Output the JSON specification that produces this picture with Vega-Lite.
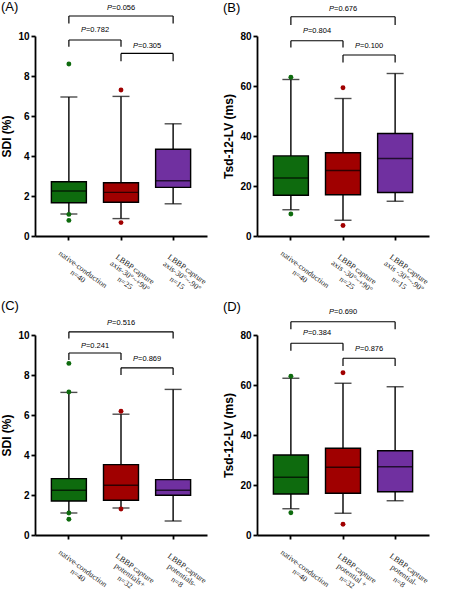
{
  "$schema": "https://vega.github.io/schema/vega-lite/v6.json",
  "padding": {"left": 0, "top": 1, "right": 2, "bottom": 0},
  "background": "white",
  "datasets": {
    "boxes": [
      {"panel": "A", "grp": "native", "cat": "native-conduction|n=40", "lo": 1.1, "q1": 1.66, "med": 2.25, "q3": 2.71, "hi": 6.95},
      {"panel": "A", "grp": "capA", "cat": "LBBP capture|axis-30°~+90°|n=25", "lo": 0.87, "q1": 1.69, "med": 2.18, "q3": 2.66, "hi": 6.98},
      {"panel": "A", "grp": "capB", "cat": "LBBP capture|axis-30°~-90°|n=15", "lo": 1.61, "q1": 2.43, "med": 2.76, "q3": 4.34, "hi": 5.61},
      {"panel": "B", "grp": "native", "cat": "native-conduction|n=40", "lo": 10.5, "q1": 16.3, "med": 23.2, "q3": 32.05, "hi": 62.6},
      {"panel": "B", "grp": "capA", "cat": "LBBP capture|axis -30°~+90°|n=25", "lo": 6.3, "q1": 16.5, "med": 26.2, "q3": 33.3, "hi": 55.0},
      {"panel": "B", "grp": "capB", "cat": "LBBP capture|axis -30°~-90°|n=15", "lo": 13.9, "q1": 17.4, "med": 31.0, "q3": 41.0, "hi": 65.0},
      {"panel": "C", "grp": "native", "cat": "native-conduction|n=40", "lo": 1.1, "q1": 1.70, "med": 2.24, "q3": 2.82, "hi": 7.13},
      {"panel": "C", "grp": "capA", "cat": "LBBP capture|potentials+|n=32", "lo": 1.35, "q1": 1.74, "med": 2.49, "q3": 3.52, "hi": 6.04},
      {"panel": "C", "grp": "capB", "cat": "LBBP capture|potentials-|n=8", "lo": 0.70, "q1": 1.99, "med": 2.24, "q3": 2.77, "hi": 7.28},
      {"panel": "D", "grp": "native", "cat": "native-conduction|n=40", "lo": 10.5, "q1": 16.4, "med": 23.1, "q3": 32.0, "hi": 62.7},
      {"panel": "D", "grp": "capA", "cat": "LBBP capture|potential +|n=32", "lo": 8.7, "q1": 16.7, "med": 27.1, "q3": 34.7, "hi": 60.7},
      {"panel": "D", "grp": "capB", "cat": "LBBP capture|potential-|n=8", "lo": 13.7, "q1": 17.3, "med": 27.3, "q3": 33.7, "hi": 59.3}
    ],
    "outliers": [
      {"panel": "A", "grp": "native", "cat": "native-conduction|n=40", "v": 8.6},
      {"panel": "A", "grp": "native", "cat": "native-conduction|n=40", "v": 1.08},
      {"panel": "A", "grp": "native", "cat": "native-conduction|n=40", "v": 0.78},
      {"panel": "A", "grp": "capA", "cat": "LBBP capture|axis-30°~+90°|n=25", "v": 7.3},
      {"panel": "A", "grp": "capA", "cat": "LBBP capture|axis-30°~+90°|n=25", "v": 0.67},
      {"panel": "B", "grp": "native", "cat": "native-conduction|n=40", "v": 63.5},
      {"panel": "B", "grp": "native", "cat": "native-conduction|n=40", "v": 8.8},
      {"panel": "B", "grp": "capA", "cat": "LBBP capture|axis -30°~+90°|n=25", "v": 59.3},
      {"panel": "B", "grp": "capA", "cat": "LBBP capture|axis -30°~+90°|n=25", "v": 4.2},
      {"panel": "C", "grp": "native", "cat": "native-conduction|n=40", "v": 8.58},
      {"panel": "C", "grp": "native", "cat": "native-conduction|n=40", "v": 7.15},
      {"panel": "C", "grp": "native", "cat": "native-conduction|n=40", "v": 1.1},
      {"panel": "C", "grp": "native", "cat": "native-conduction|n=40", "v": 0.79},
      {"panel": "C", "grp": "capA", "cat": "LBBP capture|potentials+|n=32", "v": 6.19},
      {"panel": "C", "grp": "capA", "cat": "LBBP capture|potentials+|n=32", "v": 1.30},
      {"panel": "D", "grp": "native", "cat": "native-conduction|n=40", "v": 63.5},
      {"panel": "D", "grp": "native", "cat": "native-conduction|n=40", "v": 8.9},
      {"panel": "D", "grp": "capA", "cat": "LBBP capture|potential +|n=32", "v": 64.9},
      {"panel": "D", "grp": "capA", "cat": "LBBP capture|potential +|n=32", "v": 4.3}
    ],
    "brackets": [
      {"panel": "A", "span": 1, "from": "native-conduction|n=40", "to": "LBBP capture|axis-30°~+90°|n=25", "mid": "LBBP capture|axis-30°~+90°|n=25", "h": 9.8, "leg": 9.46, "ty": 10.3, "eq": "=0.782"},
      {"panel": "A", "span": 1, "from": "LBBP capture|axis-30°~+90°|n=25", "to": "LBBP capture|axis-30°~-90°|n=15", "mid": "LBBP capture|axis-30°~-90°|n=15", "h": 9.13, "leg": 8.74, "ty": 9.48, "eq": "=0.305"},
      {"panel": "A", "span": 2, "from": "native-conduction|n=40", "to": "LBBP capture|axis-30°~-90°|n=15", "mid": "LBBP capture|axis-30°~+90°|n=25", "h": 11.0, "leg": 10.62, "ty": 11.39, "eq": "=0.056"},
      {"panel": "B", "span": 1, "from": "native-conduction|n=40", "to": "LBBP capture|axis -30°~+90°|n=25", "mid": "LBBP capture|axis -30°~+90°|n=25", "h": 78.1, "leg": 75.4, "ty": 82.1, "eq": "=0.804"},
      {"panel": "B", "span": 1, "from": "LBBP capture|axis -30°~+90°|n=25", "to": "LBBP capture|axis -30°~-90°|n=15", "mid": "LBBP capture|axis -30°~-90°|n=15", "h": 72.4, "leg": 69.4, "ty": 76.0, "eq": "=0.100"},
      {"panel": "B", "span": 2, "from": "native-conduction|n=40", "to": "LBBP capture|axis -30°~-90°|n=15", "mid": "LBBP capture|axis -30°~+90°|n=25", "h": 87.7, "leg": 84.4, "ty": 90.8, "eq": "=0.676"},
      {"panel": "C", "span": 1, "from": "native-conduction|n=40", "to": "LBBP capture|potentials+|n=32", "mid": "LBBP capture|potentials+|n=32", "h": 9.1, "leg": 8.75, "ty": 9.46, "eq": "=0.241"},
      {"panel": "C", "span": 1, "from": "LBBP capture|potentials+|n=32", "to": "LBBP capture|potentials-|n=8", "mid": "LBBP capture|potentials-|n=8", "h": 8.36, "leg": 8.0, "ty": 8.78, "eq": "=0.869"},
      {"panel": "C", "span": 2, "from": "native-conduction|n=40", "to": "LBBP capture|potentials-|n=8", "mid": "LBBP capture|potentials+|n=32", "h": 10.16, "leg": 9.83, "ty": 10.59, "eq": "=0.516"},
      {"panel": "D", "span": 1, "from": "native-conduction|n=40", "to": "LBBP capture|potential +|n=32", "mid": "LBBP capture|potential +|n=32", "h": 76.7, "leg": 73.7, "ty": 80.7, "eq": "=0.384"},
      {"panel": "D", "span": 1, "from": "LBBP capture|potential +|n=32", "to": "LBBP capture|potential-|n=8", "mid": "LBBP capture|potential-|n=8", "h": 70.7, "leg": 67.6, "ty": 74.3, "eq": "=0.876"},
      {"panel": "D", "span": 2, "from": "native-conduction|n=40", "to": "LBBP capture|potential-|n=8", "mid": "LBBP capture|potential +|n=32", "h": 85.3, "leg": 82.3, "ty": 89.3, "eq": "=0.690"}
    ]
  },
  "columns": 2,
  "spacing": {"row": -1, "column": 14},
  "concat": [
    {
      "title": {"text": "(A)", "offset": -10},
      "width": 172, "height": 200,
      "layer": [
        {"data": {"name": "boxes"}, "transform": [{"filter": "datum.panel === 'A'"}],
         "mark": {"type": "rule", "color": "black", "strokeWidth": 1.4},
         "encoding": {
           "x": {"field": "cat", "type": "nominal", "title": null, "bandPosition": 0.5, "scale": {"domain": ["native-conduction|n=40", "LBBP capture|axis-30°~+90°|n=25", "LBBP capture|axis-30°~-90°|n=15"], "paddingInner": 0, "paddingOuter": 0.15}, "axis": {"labelExpr": "split(datum.label, '|')"}},
           "y": {"field": "lo", "type": "quantitative", "title": "SDI (%)", "scale": {"domain": [0, 10], "nice": false}, "axis": {"values": [0, 2, 4, 6, 8, 10], "labelOverlap": false}},
           "y2": {"field": "hi"}}},
        {"data": {"name": "boxes"}, "transform": [{"filter": "datum.panel === 'A'"}],
         "mark": {"type": "bar", "width": 35, "stroke": "black", "strokeWidth": 1.4},
         "encoding": {
           "x": {"field": "cat", "type": "nominal", "title": null},
           "y": {"field": "q1", "type": "quantitative", "title": "SDI (%)", "axis": {"values": [0, 2, 4, 6, 8, 10], "labelOverlap": false}}, "y2": {"field": "q3"},
           "color": {"field": "grp", "type": "nominal", "scale": {"domain": ["native", "capA", "capB"], "range": ["#0e6b0e", "#a00000", "#7030a0"]}, "legend": null}}},
        {"data": {"name": "boxes"}, "transform": [{"filter": "datum.panel === 'A'"}],
         "mark": {"type": "tick", "color": "black", "thickness": 1.4, "size": 35},
         "encoding": {"x": {"field": "cat", "type": "nominal", "title": null}, "y": {"field": "med", "type": "quantitative", "title": "SDI (%)", "axis": {"values": [0, 2, 4, 6, 8, 10], "labelOverlap": false}}}},
        {"data": {"name": "boxes"}, "transform": [{"filter": "datum.panel === 'A'"}, {"fold": ["lo", "hi"], "as": ["end", "val"]}],
         "mark": {"type": "tick", "color": "black", "thickness": 1.4, "size": 17},
         "encoding": {"x": {"field": "cat", "type": "nominal", "title": null}, "y": {"field": "val", "type": "quantitative", "title": "SDI (%)", "axis": {"values": [0, 2, 4, 6, 8, 10], "labelOverlap": false}}}},
        {"data": {"name": "outliers"}, "transform": [{"filter": "datum.panel === 'A'"}],
         "mark": {"type": "circle", "size": 24, "opacity": 1},
         "encoding": {"x": {"field": "cat", "type": "nominal", "title": null}, "y": {"field": "v", "type": "quantitative", "title": "SDI (%)", "axis": {"values": [0, 2, 4, 6, 8, 10], "labelOverlap": false}}, "color": {"field": "grp", "type": "nominal", "legend": null}}},
        {"data": {"name": "brackets"}, "transform": [{"filter": "datum.panel === 'A'"}],
         "mark": {"type": "rule", "color": "black", "strokeWidth": 1.2},
         "encoding": {"x": {"field": "from", "type": "nominal", "title": null, "bandPosition": 0.5}, "x2": {"field": "to", "bandPosition": 0.5}, "y": {"field": "h", "type": "quantitative", "title": "SDI (%)", "axis": {"values": [0, 2, 4, 6, 8, 10], "labelOverlap": false}}}},
        {"data": {"name": "brackets"}, "transform": [{"filter": "datum.panel === 'A'"}],
         "mark": {"type": "rule", "color": "black", "strokeWidth": 1.2},
         "encoding": {"x": {"field": "from", "type": "nominal", "title": null, "bandPosition": 0.5}, "y": {"field": "h", "type": "quantitative", "title": "SDI (%)", "axis": {"values": [0, 2, 4, 6, 8, 10], "labelOverlap": false}}, "y2": {"field": "leg"}}},
        {"data": {"name": "brackets"}, "transform": [{"filter": "datum.panel === 'A'"}],
         "mark": {"type": "rule", "color": "black", "strokeWidth": 1.2},
         "encoding": {"x": {"field": "to", "type": "nominal", "title": null, "bandPosition": 0.5}, "y": {"field": "h", "type": "quantitative", "title": "SDI (%)", "axis": {"values": [0, 2, 4, 6, 8, 10], "labelOverlap": false}}, "y2": {"field": "leg"}}},
        {"data": {"name": "brackets"}, "transform": [{"filter": "datum.panel === 'A' && datum.span === 1"}],
         "mark": {"type": "text", "text": "P", "fontStyle": "italic", "align": "right", "dx": -9},
         "encoding": {"x": {"field": "mid", "type": "nominal", "title": null, "bandPosition": 0}, "y": {"field": "ty", "type": "quantitative", "title": "SDI (%)", "axis": {"values": [0, 2, 4, 6, 8, 10], "labelOverlap": false}}}},
        {"data": {"name": "brackets"}, "transform": [{"filter": "datum.panel === 'A' && datum.span === 1"}],
         "mark": {"type": "text", "align": "left", "dx": -9},
         "encoding": {"x": {"field": "mid", "type": "nominal", "title": null, "bandPosition": 0}, "y": {"field": "ty", "type": "quantitative", "title": "SDI (%)", "axis": {"values": [0, 2, 4, 6, 8, 10], "labelOverlap": false}}, "text": {"field": "eq"}}},
        {"data": {"name": "brackets"}, "transform": [{"filter": "datum.panel === 'A' && datum.span === 2"}],
         "mark": {"type": "text", "text": "P", "fontStyle": "italic", "align": "right", "dx": -9},
         "encoding": {"x": {"field": "mid", "type": "nominal", "title": null, "bandPosition": 0.5}, "y": {"field": "ty", "type": "quantitative", "title": "SDI (%)", "axis": {"values": [0, 2, 4, 6, 8, 10], "labelOverlap": false}}}},
        {"data": {"name": "brackets"}, "transform": [{"filter": "datum.panel === 'A' && datum.span === 2"}],
         "mark": {"type": "text", "align": "left", "dx": -9},
         "encoding": {"x": {"field": "mid", "type": "nominal", "title": null, "bandPosition": 0.5}, "y": {"field": "ty", "type": "quantitative", "title": "SDI (%)", "axis": {"values": [0, 2, 4, 6, 8, 10], "labelOverlap": false}}, "text": {"field": "eq"}}}
      ]
    },
    {
      "title": {"text": "(B)", "offset": -10},
      "width": 172, "height": 200,
      "layer": [
        {"data": {"name": "boxes"}, "transform": [{"filter": "datum.panel === 'B'"}],
         "mark": {"type": "rule", "color": "black", "strokeWidth": 1.4},
         "encoding": {
           "x": {"field": "cat", "type": "nominal", "title": null, "bandPosition": 0.5, "scale": {"domain": ["native-conduction|n=40", "LBBP capture|axis -30°~+90°|n=25", "LBBP capture|axis -30°~-90°|n=15"], "paddingInner": 0, "paddingOuter": 0.15}, "axis": {"labelExpr": "split(datum.label, '|')"}},
           "y": {"field": "lo", "type": "quantitative", "title": "Tsd-12-LV (ms)", "scale": {"domain": [0, 80], "nice": false}, "axis": {"values": [0, 20, 40, 60, 80], "labelOverlap": false}},
           "y2": {"field": "hi"}}},
        {"data": {"name": "boxes"}, "transform": [{"filter": "datum.panel === 'B'"}],
         "mark": {"type": "bar", "width": 35, "stroke": "black", "strokeWidth": 1.4},
         "encoding": {
           "x": {"field": "cat", "type": "nominal", "title": null},
           "y": {"field": "q1", "type": "quantitative", "title": "Tsd-12-LV (ms)"}, "y2": {"field": "q3"},
           "color": {"field": "grp", "type": "nominal", "scale": {"domain": ["native", "capA", "capB"], "range": ["#0e6b0e", "#a00000", "#7030a0"]}, "legend": null}}},
        {"data": {"name": "boxes"}, "transform": [{"filter": "datum.panel === 'B'"}],
         "mark": {"type": "tick", "color": "black", "thickness": 1.4, "size": 35},
         "encoding": {"x": {"field": "cat", "type": "nominal", "title": null}, "y": {"field": "med", "type": "quantitative", "title": "Tsd-12-LV (ms)"}}},
        {"data": {"name": "boxes"}, "transform": [{"filter": "datum.panel === 'B'"}, {"fold": ["lo", "hi"], "as": ["end", "val"]}],
         "mark": {"type": "tick", "color": "black", "thickness": 1.4, "size": 17},
         "encoding": {"x": {"field": "cat", "type": "nominal", "title": null}, "y": {"field": "val", "type": "quantitative", "title": "Tsd-12-LV (ms)"}}},
        {"data": {"name": "outliers"}, "transform": [{"filter": "datum.panel === 'B'"}],
         "mark": {"type": "circle", "size": 24, "opacity": 1},
         "encoding": {"x": {"field": "cat", "type": "nominal", "title": null}, "y": {"field": "v", "type": "quantitative", "title": "Tsd-12-LV (ms)"}, "color": {"field": "grp", "type": "nominal", "legend": null}}},
        {"data": {"name": "brackets"}, "transform": [{"filter": "datum.panel === 'B'"}],
         "mark": {"type": "rule", "color": "black", "strokeWidth": 1.2},
         "encoding": {"x": {"field": "from", "type": "nominal", "title": null, "bandPosition": 0.5}, "x2": {"field": "to", "bandPosition": 0.5}, "y": {"field": "h", "type": "quantitative", "title": "Tsd-12-LV (ms)"}}},
        {"data": {"name": "brackets"}, "transform": [{"filter": "datum.panel === 'B'"}],
         "mark": {"type": "rule", "color": "black", "strokeWidth": 1.2},
         "encoding": {"x": {"field": "from", "type": "nominal", "title": null, "bandPosition": 0.5}, "y": {"field": "h", "type": "quantitative", "title": "Tsd-12-LV (ms)"}, "y2": {"field": "leg"}}},
        {"data": {"name": "brackets"}, "transform": [{"filter": "datum.panel === 'B'"}],
         "mark": {"type": "rule", "color": "black", "strokeWidth": 1.2},
         "encoding": {"x": {"field": "to", "type": "nominal", "title": null, "bandPosition": 0.5}, "y": {"field": "h", "type": "quantitative", "title": "Tsd-12-LV (ms)"}, "y2": {"field": "leg"}}},
        {"data": {"name": "brackets"}, "transform": [{"filter": "datum.panel === 'B' && datum.span === 1"}],
         "mark": {"type": "text", "text": "P", "fontStyle": "italic", "align": "right", "dx": -9},
         "encoding": {"x": {"field": "mid", "type": "nominal", "title": null, "bandPosition": 0}, "y": {"field": "ty", "type": "quantitative", "title": "Tsd-12-LV (ms)"}}},
        {"data": {"name": "brackets"}, "transform": [{"filter": "datum.panel === 'B' && datum.span === 1"}],
         "mark": {"type": "text", "align": "left", "dx": -9},
         "encoding": {"x": {"field": "mid", "type": "nominal", "title": null, "bandPosition": 0}, "y": {"field": "ty", "type": "quantitative", "title": "Tsd-12-LV (ms)"}, "text": {"field": "eq"}}},
        {"data": {"name": "brackets"}, "transform": [{"filter": "datum.panel === 'B' && datum.span === 2"}],
         "mark": {"type": "text", "text": "P", "fontStyle": "italic", "align": "right", "dx": -9},
         "encoding": {"x": {"field": "mid", "type": "nominal", "title": null, "bandPosition": 0.5}, "y": {"field": "ty", "type": "quantitative", "title": "Tsd-12-LV (ms)"}}},
        {"data": {"name": "brackets"}, "transform": [{"filter": "datum.panel === 'B' && datum.span === 2"}],
         "mark": {"type": "text", "align": "left", "dx": -9},
         "encoding": {"x": {"field": "mid", "type": "nominal", "title": null, "bandPosition": 0.5}, "y": {"field": "ty", "type": "quantitative", "title": "Tsd-12-LV (ms)"}, "text": {"field": "eq"}}}
      ]
    },
    {
      "title": {"text": "(C)", "offset": 6},
      "width": 172, "height": 200,
      "layer": [
        {"data": {"name": "boxes"}, "transform": [{"filter": "datum.panel === 'C'"}],
         "mark": {"type": "rule", "color": "black", "strokeWidth": 1.4},
         "encoding": {
           "x": {"field": "cat", "type": "nominal", "title": null, "bandPosition": 0.5, "scale": {"domain": ["native-conduction|n=40", "LBBP capture|potentials+|n=32", "LBBP capture|potentials-|n=8"], "paddingInner": 0, "paddingOuter": 0.15}, "axis": {"labelExpr": "split(datum.label, '|')"}},
           "y": {"field": "lo", "type": "quantitative", "title": "SDI (%)", "scale": {"domain": [0, 10], "nice": false}, "axis": {"values": [0, 2, 4, 6, 8, 10], "labelOverlap": false}},
           "y2": {"field": "hi"}}},
        {"data": {"name": "boxes"}, "transform": [{"filter": "datum.panel === 'C'"}],
         "mark": {"type": "bar", "width": 35, "stroke": "black", "strokeWidth": 1.4},
         "encoding": {
           "x": {"field": "cat", "type": "nominal", "title": null},
           "y": {"field": "q1", "type": "quantitative", "title": "SDI (%)", "axis": {"values": [0, 2, 4, 6, 8, 10], "labelOverlap": false}}, "y2": {"field": "q3"},
           "color": {"field": "grp", "type": "nominal", "scale": {"domain": ["native", "capA", "capB"], "range": ["#0e6b0e", "#a00000", "#7030a0"]}, "legend": null}}},
        {"data": {"name": "boxes"}, "transform": [{"filter": "datum.panel === 'C'"}],
         "mark": {"type": "tick", "color": "black", "thickness": 1.4, "size": 35},
         "encoding": {"x": {"field": "cat", "type": "nominal", "title": null}, "y": {"field": "med", "type": "quantitative", "title": "SDI (%)", "axis": {"values": [0, 2, 4, 6, 8, 10], "labelOverlap": false}}}},
        {"data": {"name": "boxes"}, "transform": [{"filter": "datum.panel === 'C'"}, {"fold": ["lo", "hi"], "as": ["end", "val"]}],
         "mark": {"type": "tick", "color": "black", "thickness": 1.4, "size": 17},
         "encoding": {"x": {"field": "cat", "type": "nominal", "title": null}, "y": {"field": "val", "type": "quantitative", "title": "SDI (%)", "axis": {"values": [0, 2, 4, 6, 8, 10], "labelOverlap": false}}}},
        {"data": {"name": "outliers"}, "transform": [{"filter": "datum.panel === 'C'"}],
         "mark": {"type": "circle", "size": 24, "opacity": 1},
         "encoding": {"x": {"field": "cat", "type": "nominal", "title": null}, "y": {"field": "v", "type": "quantitative", "title": "SDI (%)", "axis": {"values": [0, 2, 4, 6, 8, 10], "labelOverlap": false}}, "color": {"field": "grp", "type": "nominal", "legend": null}}},
        {"data": {"name": "brackets"}, "transform": [{"filter": "datum.panel === 'C'"}],
         "mark": {"type": "rule", "color": "black", "strokeWidth": 1.2},
         "encoding": {"x": {"field": "from", "type": "nominal", "title": null, "bandPosition": 0.5}, "x2": {"field": "to", "bandPosition": 0.5}, "y": {"field": "h", "type": "quantitative", "title": "SDI (%)", "axis": {"values": [0, 2, 4, 6, 8, 10], "labelOverlap": false}}}},
        {"data": {"name": "brackets"}, "transform": [{"filter": "datum.panel === 'C'"}],
         "mark": {"type": "rule", "color": "black", "strokeWidth": 1.2},
         "encoding": {"x": {"field": "from", "type": "nominal", "title": null, "bandPosition": 0.5}, "y": {"field": "h", "type": "quantitative", "title": "SDI (%)", "axis": {"values": [0, 2, 4, 6, 8, 10], "labelOverlap": false}}, "y2": {"field": "leg"}}},
        {"data": {"name": "brackets"}, "transform": [{"filter": "datum.panel === 'C'"}],
         "mark": {"type": "rule", "color": "black", "strokeWidth": 1.2},
         "encoding": {"x": {"field": "to", "type": "nominal", "title": null, "bandPosition": 0.5}, "y": {"field": "h", "type": "quantitative", "title": "SDI (%)", "axis": {"values": [0, 2, 4, 6, 8, 10], "labelOverlap": false}}, "y2": {"field": "leg"}}},
        {"data": {"name": "brackets"}, "transform": [{"filter": "datum.panel === 'C' && datum.span === 1"}],
         "mark": {"type": "text", "text": "P", "fontStyle": "italic", "align": "right", "dx": -9},
         "encoding": {"x": {"field": "mid", "type": "nominal", "title": null, "bandPosition": 0}, "y": {"field": "ty", "type": "quantitative", "title": "SDI (%)", "axis": {"values": [0, 2, 4, 6, 8, 10], "labelOverlap": false}}}},
        {"data": {"name": "brackets"}, "transform": [{"filter": "datum.panel === 'C' && datum.span === 1"}],
         "mark": {"type": "text", "align": "left", "dx": -9},
         "encoding": {"x": {"field": "mid", "type": "nominal", "title": null, "bandPosition": 0}, "y": {"field": "ty", "type": "quantitative", "title": "SDI (%)", "axis": {"values": [0, 2, 4, 6, 8, 10], "labelOverlap": false}}, "text": {"field": "eq"}}},
        {"data": {"name": "brackets"}, "transform": [{"filter": "datum.panel === 'C' && datum.span === 2"}],
         "mark": {"type": "text", "text": "P", "fontStyle": "italic", "align": "right", "dx": -9},
         "encoding": {"x": {"field": "mid", "type": "nominal", "title": null, "bandPosition": 0.5}, "y": {"field": "ty", "type": "quantitative", "title": "SDI (%)", "axis": {"values": [0, 2, 4, 6, 8, 10], "labelOverlap": false}}}},
        {"data": {"name": "brackets"}, "transform": [{"filter": "datum.panel === 'C' && datum.span === 2"}],
         "mark": {"type": "text", "align": "left", "dx": -9},
         "encoding": {"x": {"field": "mid", "type": "nominal", "title": null, "bandPosition": 0.5}, "y": {"field": "ty", "type": "quantitative", "title": "SDI (%)", "axis": {"values": [0, 2, 4, 6, 8, 10], "labelOverlap": false}}, "text": {"field": "eq"}}}
      ]
    },
    {
      "title": {"text": "(D)", "offset": -6},
      "width": 172, "height": 200,
      "layer": [
        {"data": {"name": "boxes"}, "transform": [{"filter": "datum.panel === 'D'"}],
         "mark": {"type": "rule", "color": "black", "strokeWidth": 1.4},
         "encoding": {
           "x": {"field": "cat", "type": "nominal", "title": null, "bandPosition": 0.5, "scale": {"domain": ["native-conduction|n=40", "LBBP capture|potential +|n=32", "LBBP capture|potential-|n=8"], "paddingInner": 0, "paddingOuter": 0.15}, "axis": {"labelExpr": "split(datum.label, '|')"}},
           "y": {"field": "lo", "type": "quantitative", "title": "Tsd-12-LV (ms)", "scale": {"domain": [0, 80], "nice": false}, "axis": {"values": [0, 20, 40, 60, 80], "labelOverlap": false}},
           "y2": {"field": "hi"}}},
        {"data": {"name": "boxes"}, "transform": [{"filter": "datum.panel === 'D'"}],
         "mark": {"type": "bar", "width": 35, "stroke": "black", "strokeWidth": 1.4},
         "encoding": {
           "x": {"field": "cat", "type": "nominal", "title": null},
           "y": {"field": "q1", "type": "quantitative", "title": "Tsd-12-LV (ms)"}, "y2": {"field": "q3"},
           "color": {"field": "grp", "type": "nominal", "scale": {"domain": ["native", "capA", "capB"], "range": ["#0e6b0e", "#a00000", "#7030a0"]}, "legend": null}}},
        {"data": {"name": "boxes"}, "transform": [{"filter": "datum.panel === 'D'"}],
         "mark": {"type": "tick", "color": "black", "thickness": 1.4, "size": 35},
         "encoding": {"x": {"field": "cat", "type": "nominal", "title": null}, "y": {"field": "med", "type": "quantitative", "title": "Tsd-12-LV (ms)"}}},
        {"data": {"name": "boxes"}, "transform": [{"filter": "datum.panel === 'D'"}, {"fold": ["lo", "hi"], "as": ["end", "val"]}],
         "mark": {"type": "tick", "color": "black", "thickness": 1.4, "size": 17},
         "encoding": {"x": {"field": "cat", "type": "nominal", "title": null}, "y": {"field": "val", "type": "quantitative", "title": "Tsd-12-LV (ms)"}}},
        {"data": {"name": "outliers"}, "transform": [{"filter": "datum.panel === 'D'"}],
         "mark": {"type": "circle", "size": 24, "opacity": 1},
         "encoding": {"x": {"field": "cat", "type": "nominal", "title": null}, "y": {"field": "v", "type": "quantitative", "title": "Tsd-12-LV (ms)"}, "color": {"field": "grp", "type": "nominal", "legend": null}}},
        {"data": {"name": "brackets"}, "transform": [{"filter": "datum.panel === 'D'"}],
         "mark": {"type": "rule", "color": "black", "strokeWidth": 1.2},
         "encoding": {"x": {"field": "from", "type": "nominal", "title": null, "bandPosition": 0.5}, "x2": {"field": "to", "bandPosition": 0.5}, "y": {"field": "h", "type": "quantitative", "title": "Tsd-12-LV (ms)"}}},
        {"data": {"name": "brackets"}, "transform": [{"filter": "datum.panel === 'D'"}],
         "mark": {"type": "rule", "color": "black", "strokeWidth": 1.2},
         "encoding": {"x": {"field": "from", "type": "nominal", "title": null, "bandPosition": 0.5}, "y": {"field": "h", "type": "quantitative", "title": "Tsd-12-LV (ms)"}, "y2": {"field": "leg"}}},
        {"data": {"name": "brackets"}, "transform": [{"filter": "datum.panel === 'D'"}],
         "mark": {"type": "rule", "color": "black", "strokeWidth": 1.2},
         "encoding": {"x": {"field": "to", "type": "nominal", "title": null, "bandPosition": 0.5}, "y": {"field": "h", "type": "quantitative", "title": "Tsd-12-LV (ms)"}, "y2": {"field": "leg"}}},
        {"data": {"name": "brackets"}, "transform": [{"filter": "datum.panel === 'D' && datum.span === 1"}],
         "mark": {"type": "text", "text": "P", "fontStyle": "italic", "align": "right", "dx": -9},
         "encoding": {"x": {"field": "mid", "type": "nominal", "title": null, "bandPosition": 0}, "y": {"field": "ty", "type": "quantitative", "title": "Tsd-12-LV (ms)"}}},
        {"data": {"name": "brackets"}, "transform": [{"filter": "datum.panel === 'D' && datum.span === 1"}],
         "mark": {"type": "text", "align": "left", "dx": -9},
         "encoding": {"x": {"field": "mid", "type": "nominal", "title": null, "bandPosition": 0}, "y": {"field": "ty", "type": "quantitative", "title": "Tsd-12-LV (ms)"}, "text": {"field": "eq"}}},
        {"data": {"name": "brackets"}, "transform": [{"filter": "datum.panel === 'D' && datum.span === 2"}],
         "mark": {"type": "text", "text": "P", "fontStyle": "italic", "align": "right", "dx": -9},
         "encoding": {"x": {"field": "mid", "type": "nominal", "title": null, "bandPosition": 0.5}, "y": {"field": "ty", "type": "quantitative", "title": "Tsd-12-LV (ms)"}}},
        {"data": {"name": "brackets"}, "transform": [{"filter": "datum.panel === 'D' && datum.span === 2"}],
         "mark": {"type": "text", "align": "left", "dx": -9},
         "encoding": {"x": {"field": "mid", "type": "nominal", "title": null, "bandPosition": 0.5}, "y": {"field": "ty", "type": "quantitative", "title": "Tsd-12-LV (ms)"}, "text": {"field": "eq"}}}
      ]
    }
  ],
  "config": {
    "view": {"stroke": null},
    "font": "Liberation Sans",
    "title": {"font": "Liberation Sans", "fontSize": 13, "fontWeight": "normal", "anchor": "start", "frame": "bounds", "color": "black"},
    "text": {"font": "Liberation Sans", "fontSize": 7.5, "color": "black", "baseline": "middle"},
    "axis": {"grid": false, "domainColor": "black", "domainWidth": 1.8, "tickColor": "black", "tickWidth": 1.8, "tickSize": 4,
             "labelColor": "black", "labelFont": "Liberation Sans", "labelFontWeight": "bold", "labelFontSize": 10, "labelPadding": 2,
             "titleFont": "Liberation Sans", "titleFontWeight": "bold", "titleFontSize": 12, "titleColor": "black", "titlePadding": 4},
    "axisY": {"labelOverlap": false},
    "axisQuantitative": {"labelOverlap": false},
    "axisX": {"labelFont": "Liberation Serif", "labelFontWeight": "normal", "labelFontSize": 8, "labelAngle": 36, "labelAlign": "center", "labelBaseline": "top", "labelOffset": 16, "labelPadding": 26, "labelLineHeight": 8.5, "labelOverlap": false, "labelBound": false, "labelColor": "#222"}
  }
}
